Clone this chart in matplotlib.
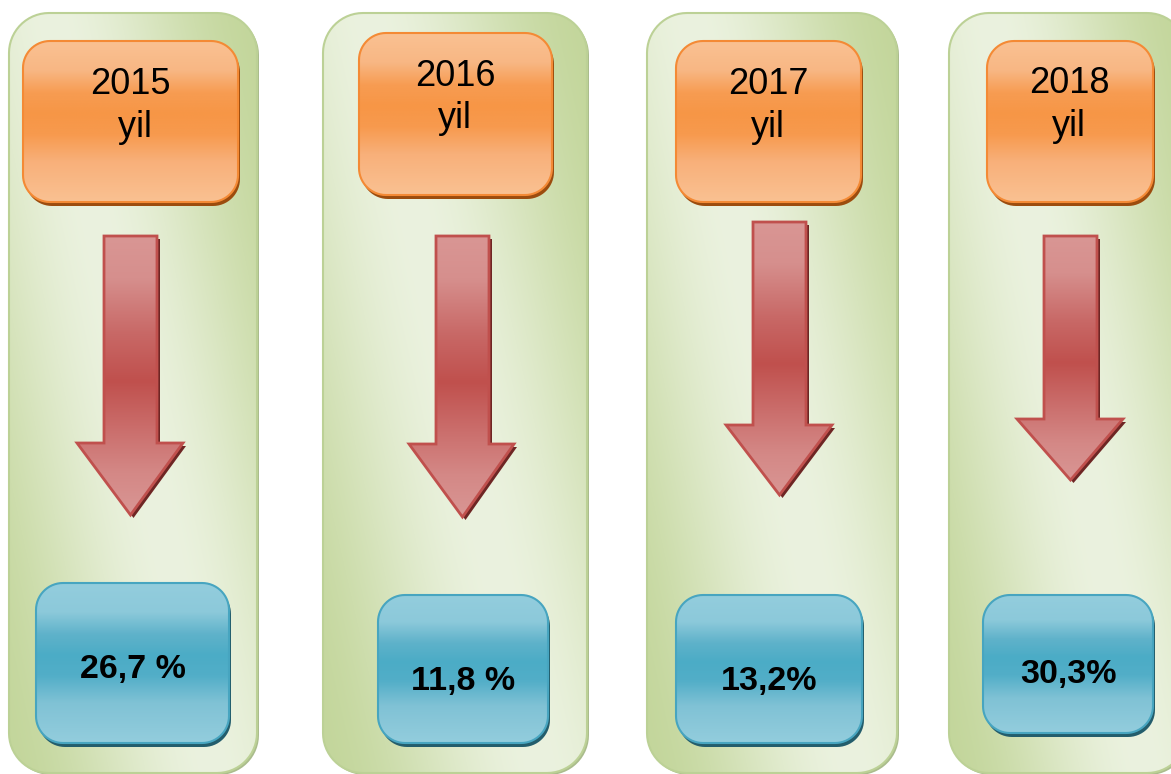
import numpy as np
import matplotlib.pyplot as plt
from matplotlib.patches import Polygon
from matplotlib.colors import to_rgb

years = ['2015', '2016', '2017', '2018']
unit_labels = [' yil', 'yil', 'yil', 'yil']
values = [26.7, 11.8, 13.2, 30.3]
value_labels = ['26,7 %', '11,8 %', '13,2%', '30,3%']

# layout (pixel coords, y grows downwards)
panel_x = [(9, 257), (323, 587), (647, 897), (949, 1187)]
orange_box = [(23, 41, 238, 202), (359, 33, 552, 195), (676, 41, 861, 202), (987, 41, 1153, 202)]
year_base = [(94, 137), (86, 128), (94, 137), (93, 136)]
year_x = [130, 455, 768, 1069]
# shaft x0, x1, top, head y, head x0, head x1, tip y
arrow_geo = [(104, 157, 236, 443, 77, 183, 515),
             (436, 489, 236, 444, 409, 514, 517),
             (753, 806, 222, 425, 726, 832, 495),
             (1044, 1097, 236, 419, 1017, 1123, 480)]
blue_box = [(36, 583, 229, 743), (378, 595, 548, 743), (676, 595, 862, 743), (983, 595, 1153, 733)]
value_base = [678, 690, 690, 683]

W, H = 1171, 774
fig = plt.figure(figsize=(W / 100, H / 100), dpi=100)
ax = fig.add_axes([0, 0, 1, 1])
ax.set_xlim(0, W)
ax.set_ylim(H, 0)
ax.axis('off')


def stops_img(stops, n=200):
    # vertical gradient from list of (pos, color)
    pos = [p for p, c in stops]
    cols = np.array([to_rgb(c) for p, c in stops])
    t = np.linspace(0, 1, n)
    rgb = np.stack([np.interp(t, pos, cols[:, k]) for k in range(3)], axis=1)
    return rgb[:, None, :].repeat(2, axis=1)


def fill(patch, img, x0, y0, x1, y1, z):
    ax.add_patch(patch)
    im = ax.imshow(img, extent=(x0, x1, y1, y0), origin='upper', aspect='auto',
                   interpolation='bilinear', zorder=z)
    im.set_clip_path(patch)


def rbox(x0, y0, x1, y1, r, **kw):
    # rounded rectangle as a plain polygon
    pts = []
    corners = [(x1 - r, y0 + r, -90, 0), (x1 - r, y1 - r, 0, 90),
               (x0 + r, y1 - r, 90, 180), (x0 + r, y0 + r, 180, 270)]
    for cx, cy, a0, a1 in corners:
        a = np.radians(np.linspace(a0, a1, 16))
        pts += list(zip(cx + r * np.cos(a), cy + r * np.sin(a)))
    return Polygon(pts, closed=True, **kw)


light_g = np.array(to_rgb('#ebf2df'))
dark_g = np.array(to_rgb('#c3d69b'))
orange_stops = [(0, '#fac192'), (0.18, '#f8b784'), (0.32, '#f79c52'), (0.45, '#f79646'),
                (0.58, '#f79a4e'), (0.75, '#f8b07a'), (1, '#fac192')]
blue_stops = [(0, '#93cddd'), (0.18, '#8cc9da'), (0.32, '#5fb2ca'), (0.45, '#4bacc6'),
              (0.58, '#52aec8'), (0.75, '#80c2d5'), (1, '#93cddd')]
red_stops = [(0, '#d99694'), (0.15, '#d68f8d'), (0.35, '#c86866'), (0.52, '#c0504d'),
             (0.7, '#cb6f6d'), (0.85, '#d48886'), (1, '#d99694')]

for i in range(len(years)):
    # green panel
    px0, px1 = panel_x[i]
    py0, py1 = 13, 773
    ax.add_patch(rbox(px0 + 2, py0 + 2, px1 + 2, py1 + 2, 40, facecolor='#aabc8c',
                      edgecolor='none', zorder=1))
    u = np.linspace(0, 1, 120)[None, :]
    v = np.linspace(0, 1, 300)[:, None]
    d = np.clip(np.abs(u - (0.17 + 0.66 * v)) / 0.85, 0, 1)
    d = d * d * (3 - 2 * d)
    img = light_g + (dark_g - light_g) * d[..., None]
    pan = rbox(px0, py0, px1, py1, 40, facecolor='none', edgecolor='none', zorder=2)
    fill(pan, img, px0, py0, px1, py1, 2)
    ax.add_patch(rbox(px0, py0, px1, py1, 40, facecolor='none', edgecolor='#bcd196',
                      lw=1.5, zorder=3))

    # orange year box
    x0, y0, x1, y1 = orange_box[i]
    ax.add_patch(rbox(x0 + 2, y0 + 4, x1 + 2, y1 + 4, 27, facecolor='#9c4c0e',
                      edgecolor='none', zorder=4))
    ob = rbox(x0, y0, x1, y1, 27, facecolor='none', edgecolor='none', zorder=5)
    fill(ob, stops_img(orange_stops), x0, y0, x1, y1, 5)
    ax.add_patch(rbox(x0, y0, x1, y1, 27, facecolor='none', edgecolor='#f48a35',
                      lw=1.5, zorder=6))
    ax.text(year_x[i], year_base[i][0], years[i], ha='center', va='baseline',
            fontsize=26, family='Liberation Sans', zorder=7)
    ax.text(year_x[i], year_base[i][1], unit_labels[i], ha='center', va='baseline',
            fontsize=26, family='Liberation Sans', zorder=7)

    # arrow
    sx0, sx1, top, hy, hx0, hx1, tip = arrow_geo[i]
    tx = (sx0 + sx1) / 2
    pts = [(sx0, top), (sx1, top), (sx1, hy), (hx1, hy), (tx, tip), (hx0, hy), (sx0, hy)]
    shadow = [(x + 3, y + 3) for x, y in pts]
    ax.add_patch(Polygon(shadow, closed=True, facecolor='#6e2624', edgecolor='none', zorder=4))
    arr = Polygon(pts, closed=True, facecolor='none', edgecolor='none', zorder=5)
    fill(arr, stops_img(red_stops), hx0, top, hx1, tip, 5)
    ax.add_patch(Polygon(pts, closed=True, facecolor='none', edgecolor='#c0504d',
                         lw=2, joinstyle='miter', zorder=6))

    # blue value box
    x0, y0, x1, y1 = blue_box[i]
    ax.add_patch(rbox(x0 + 2, y0 + 4, x1 + 2, y1 + 4, 27, facecolor='#235d6c',
                      edgecolor='none', zorder=4))
    bb = rbox(x0, y0, x1, y1, 27, facecolor='none', edgecolor='none', zorder=5)
    fill(bb, stops_img(blue_stops), x0, y0, x1, y1, 5)
    ax.add_patch(rbox(x0, y0, x1, y1, 27, facecolor='none', edgecolor='#47a5c0',
                      lw=1.5, zorder=6))
    ax.text((x0 + x1) / 2, value_base[i], value_labels[i], ha='center', va='baseline',
            fontsize=24.5, fontweight='bold', family='Liberation Sans', zorder=7)

ax.set_xlim(0, W)
ax.set_ylim(H, 0)
fig.savefig('out.png', dpi=100, facecolor='white')
